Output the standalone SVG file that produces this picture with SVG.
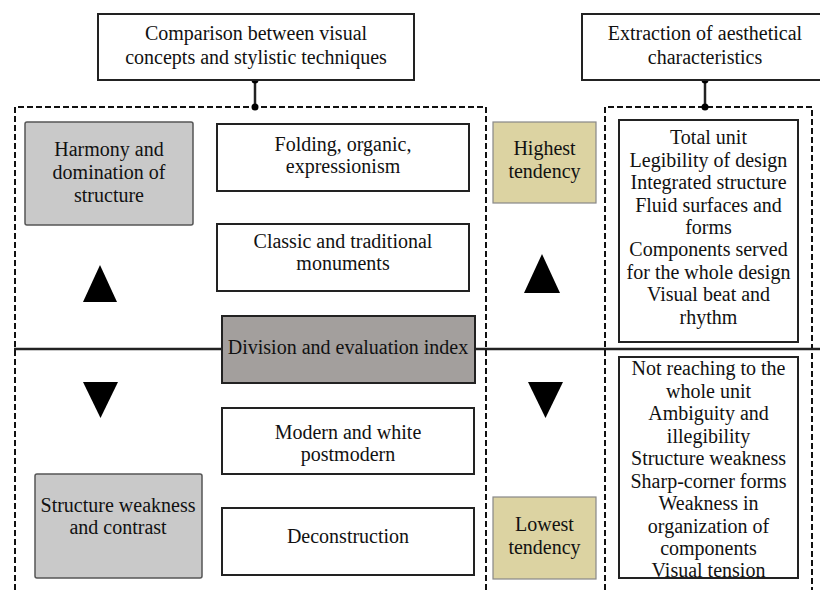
<svg xmlns="http://www.w3.org/2000/svg" width="820" height="590" viewBox="0 0 820 590" font-family="Liberation Serif, DejaVu Serif, serif">
<style>
text{font-size:20px;fill:#111;text-anchor:middle}
.box{fill:#fff;stroke:#222;stroke-width:2}
.gray{fill:#c9c9c9;stroke:#555;stroke-width:1.5}
.dark{fill:#a39f9d;stroke:#222;stroke-width:2}
.tan{fill:#dcd3a2;stroke:#888;stroke-width:1.2}
.dash{fill:none;stroke:#111;stroke-width:2;stroke-dasharray:6,3}
.line{stroke:#222;stroke-width:2.5;fill:none}
.tri{fill:#000}
</style>
<rect width="820" height="590" fill="#fff"/>
<g id="containers">
<path class="dash" d="M15,590 V107 H486 V590"/>
<path class="dash" d="M605,590 V107 H812 V590"/>
</g>
<g id="connectors">
<line class="line" x1="255" y1="80" x2="255" y2="107"/>
<circle cx="255" cy="80" r="3.5" fill="#000"/>
<circle cx="255" cy="107" r="3.5" fill="#000"/>
<line class="line" x1="705" y1="80" x2="705" y2="107"/>
<circle cx="705" cy="80" r="3.5" fill="#000"/>
<circle cx="705" cy="107" r="3.5" fill="#000"/>
<line class="line" x1="14" y1="349" x2="820" y2="349"/>
</g>
<g id="top1"><rect class="box" x="98" y="14" width="316" height="66"/>
<text x="256" y="40">Comparison between visual</text><text x="256" y="64">concepts and stylistic techniques</text></g>
<g id="top2"><rect class="box" x="582" y="14" width="250" height="66"/>
<text x="705" y="40">Extraction of aesthetical</text><text x="705" y="64">characteristics</text></g>
<g id="harmony"><rect class="gray" x="25" y="122" width="168" height="103" rx="2"/>
<text x="109" y="156">Harmony and</text><text x="109" y="179">domination of</text><text x="109" y="202">structure</text></g>
<g id="folding"><rect class="box" x="217" y="124" width="252" height="67"/>
<text x="343" y="151">Folding, organic,</text><text x="343" y="173">expressionism</text></g>
<g id="classic"><rect class="box" x="217" y="224" width="252" height="67"/>
<text x="343" y="248">Classic and traditional</text><text x="343" y="270">monuments</text></g>
<g id="division"><rect class="dark" x="222" y="316" width="253" height="67"/>
<text x="348" y="354">Division and evaluation index</text></g>
<g id="modern"><rect class="box" x="222" y="408" width="252" height="66"/>
<text x="348" y="439">Modern and white</text><text x="348" y="461">postmodern</text></g>
<g id="deconstruction"><rect class="box" x="222" y="508" width="252" height="67"/>
<text x="348" y="543">Deconstruction</text></g>
<g id="weakness"><rect class="gray" x="35" y="474" width="167" height="104" rx="2"/>
<text x="118" y="512">Structure weakness</text><text x="118" y="534">and contrast</text></g>
<g id="highest"><rect class="tan" x="493" y="122" width="103" height="81"/>
<text x="544.5" y="155">Highest</text><text x="544.5" y="178">tendency</text></g>
<g id="lowest"><rect class="tan" x="493" y="497" width="103" height="82"/>
<text x="544.5" y="531">Lowest</text><text x="544.5" y="554">tendency</text></g>
<g id="arrows">
<polygon class="tri" points="100,265 117,302 83,302"/>
<polygon class="tri" points="83,382 118,382 100.5,418"/>
<polygon class="tri" points="542,254 560,293 524,293"/>
<polygon class="tri" points="528,382 563,382 545.5,418"/>
</g>
<g id="positive"><rect class="box" x="619" y="120" width="179" height="222"/>
<text x="708.5" y="144">Total unit</text>
<text x="708.5" y="167">Legibility of design</text>
<text x="708.5" y="189">Integrated structure</text>
<text x="708.5" y="212">Fluid surfaces and</text>
<text x="708.5" y="234">forms</text>
<text x="708.5" y="256">Components served</text>
<text x="708.5" y="279">for the whole design</text>
<text x="708.5" y="301">Visual beat and</text>
<text x="708.5" y="324">rhythm</text></g>
<g id="negative"><rect class="box" x="619" y="357" width="179" height="221"/>
<text x="708.5" y="375">Not reaching to the</text>
<text x="708.5" y="398">whole unit</text>
<text x="708.5" y="420">Ambiguity and</text>
<text x="708.5" y="443">illegibility</text>
<text x="708.5" y="465">Structure weakness</text>
<text x="708.5" y="488">Sharp-corner forms</text>
<text x="708.5" y="510">Weakness in</text>
<text x="708.5" y="533">organization of</text>
<text x="708.5" y="555">components</text>
<text x="708.5" y="577">Visual tension</text></g>
</svg>
